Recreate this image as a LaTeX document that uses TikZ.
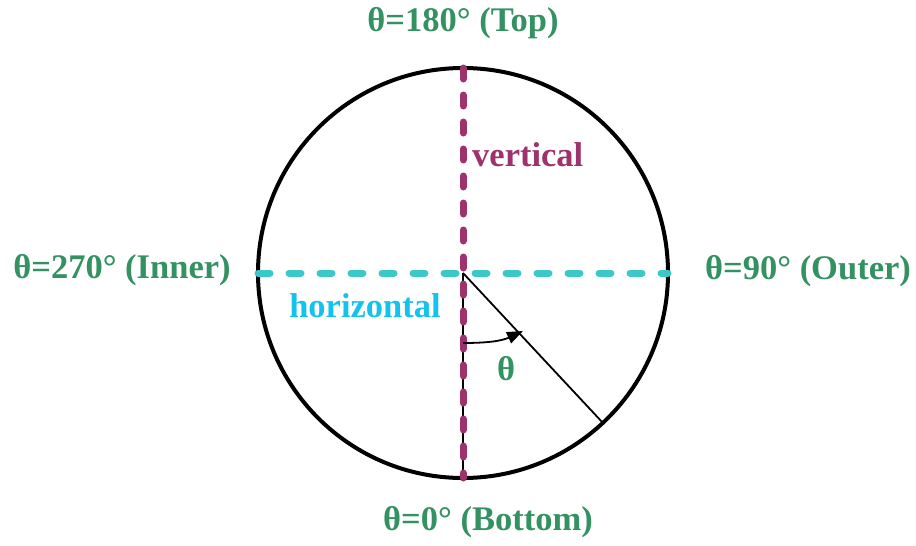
\documentclass[tikz,border=0pt]{standalone}
\usepackage{fontspec}
\setmainfont{Liberation Serif}
\usetikzlibrary{arrows.meta}
\definecolor{tgreen}{RGB}{52,145,98}
\definecolor{vpurple}{RGB}{158,50,108}
\definecolor{hcyan}{RGB}{60,200,200}
\definecolor{hlabel}{RGB}{20,195,235}
\begin{document}
\begin{tikzpicture}[x=1pt,y=-1pt,
  lbl/.style={font=\fontsize{34.5}{40}\selectfont\bfseries, inner sep=0pt},
  vdash/.style={vpurple, line width=7pt, line cap=round, dash pattern=on 11pt off 16pt},
  hdash/.style={hcyan, line width=7pt, line cap=round, dash pattern=on 12pt off 19pt}]
\useasboundingbox (0,0) rectangle (916,546);
\coordinate (c) at (463,273);
\coordinate (top) at (463,68);
\coordinate (bot) at (463,478);
\coordinate (lft) at (258,273);
\coordinate (rgt) at (668,273);
\coordinate (d) at (603,423);
\draw[line width=4pt] (c) circle (205);
\draw[line width=1.8pt] (c) -- (bot);
\draw[line width=1.8pt] (c) -- (d);
\draw[vdash] (top) -- (bot);
\draw[hdash] (lft) -- (rgt);
\coordinate (a1) at (463,343);
\coordinate (a2) at (523,331);
\draw[line width=1.8pt, -{Triangle[length=16pt,width=12pt]}] (a1) to[out=0,in=205] (a2);
\node[lbl, text=tgreen] (ttop) at (463,23) {θ=180° (Top)};
\node[lbl, text=tgreen] (tin) at (122,270) {θ=270° (Inner)};
\node[lbl, text=tgreen] (tout) at (808,271) {θ=90° (Outer)};
\node[lbl, text=tgreen] (tbot) at (488,522) {θ=0° (Bottom)};
\node[lbl, text=tgreen] (th) at (506,369) {θ};
\node[lbl, text=vpurple, anchor=west] (vert) at (472,155) {vertical};
\node[lbl, text=hlabel] (hor) at (365,306) {horizontal};
\end{tikzpicture}
\end{document}
